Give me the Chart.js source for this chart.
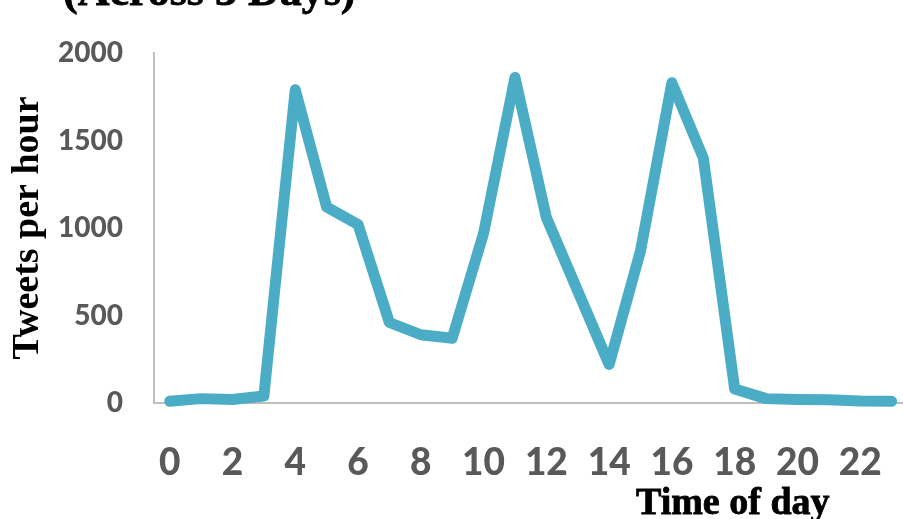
<!DOCTYPE html>
<html>
<head>
<meta charset="utf-8">
<script src="https://cdn.jsdelivr.net/npm/chart.js@4/dist/chart.umd.min.js"></script>
<style>
  html, body { margin: 0; padding: 0; background: #fff; overflow: hidden; width: 903px; height: 519px; }
  #wrap { position: absolute; left: 0; top: 0; width: 930px; height: 519px; }
</style>
</head>
<body>
<div id="wrap"><canvas id="c" width="930" height="519"></canvas></div>
<script>
// Hour of day (0-23)
const hours = [0, 1, 2, 3, 4, 5, 6, 7, 8, 9, 10, 11, 12, 13, 14, 15, 16, 17, 18, 19, 20, 21, 22, 23];
// Average tweets per hour
const tweetsPerHour = [10, 25, 20, 40, 1790, 1120, 1020, 460, 390, 370, 970, 1860, 1060, 640, 220, 870, 1830, 1400, 80, 25, 20, 18, 12, 10];
// Value axis ticks
const yTicks = [0, 500, 1000, 1500, 2000];

const chartTitle = '(Across 3 Days)';
const xTitle = 'Time of day';
const yTitle = 'Tweets per hour';

const tickFont = 'Lato, "Open Sans", sans-serif';
const titleFont = '"Liberation Serif", "Times New Roman", serif';

// Draws the heading and the time axis caption
const captions = {
  id: 'captions',
  afterDraw(chart) {
    const c = chart.ctx;
    c.save();
    c.fillStyle = '#000';
    c.strokeStyle = '#000';
    c.lineWidth = 0.8;
    c.textAlign = 'left';
    c.textBaseline = 'alphabetic';
    c.font = 'bold 44px ' + titleFont;
    c.fillText(chartTitle, 63, 5);
    c.strokeText(chartTitle, 63, 5);
    c.font = 'bold 38px ' + titleFont;
    c.fillText(xTitle, 636, 514);
    c.strokeText(xTitle, 636, 514);
    c.restore();
  }
};

new Chart(document.getElementById('c'), {
  type: 'line',
  data: {
    labels: hours,
    datasets: [{
      data: tweetsPerHour,
      borderColor: '#4BACC6',
      borderWidth: 11,
      borderCapStyle: 'round',
      borderJoinStyle: 'round',
      pointRadius: 0,
      tension: 0,
      fill: false,
      clip: false
    }]
  },
  options: {
    responsive: false,
    animation: false,
    devicePixelRatio: 1,
    layout: { padding: { left: 0, top: 53, right: 18, bottom: 0 } },
    plugins: { legend: { display: false }, tooltip: { enabled: false }, title: { display: false } },
    scales: {
      x: {
        type: 'category',
        offset: true,
        grid: { display: false, drawTicks: false },
        border: { display: true, color: '#BFBFBF', width: 2 },
        ticks: {
          autoSkip: false,
          maxRotation: 0,
          padding: 38,
          color: '#595959',
          font: { family: tickFont, size: 37, weight: '900' },
          callback: (v, i) => (hours[i] % 2 === 0 ? String(hours[i]) : '')
        },
        afterFit: s => { s.height = 116; }
      },
      y: {
        min: 0,
        max: 2000,
        grid: { display: false, drawTicks: false },
        border: { display: true, color: '#BFBFBF', width: 2 },
        ticks: {
          padding: 31,
          color: '#595959',
          font: { family: tickFont, size: 28, weight: '900' },
          callback: v => String(v)
        },
        afterBuildTicks: s => { s.ticks = yTicks.map(v => ({ value: v })); },
        title: {
          display: true,
          text: yTitle,
          color: '#000',
          font: { family: titleFont, size: 38, weight: 'bold' },
          padding: { top: 5, bottom: 0 }
        },
        afterFit: s => { s.width = 154; }
      }
    }
  },
  plugins: [captions]
});
</script>
</body>
</html>
